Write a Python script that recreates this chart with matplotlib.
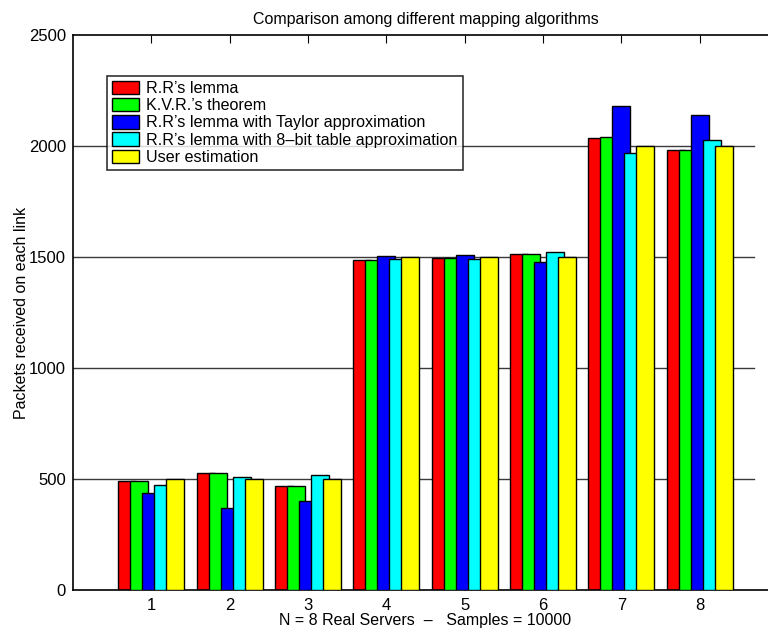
import numpy as np
import matplotlib
matplotlib.use("Agg")
import matplotlib.pyplot as plt
from matplotlib.patches import Patch

plt.rcParams['font.family'] = ['Liberation Sans', 'DejaVu Sans']

servers = [1, 2, 3, 4, 5, 6, 7, 8]
series_names = [
    "R.R\u2019s lemma",
    "K.V.R.\u2019s theorem",
    "R.R\u2019s lemma with Taylor approximation",
    "R.R\u2019s lemma with 8\u2013bit table approximation",
    "User estimation",
]
rr_lemma = [491, 527, 468, 1487, 1497, 1514, 2037, 1983]
kvr_theorem = [489, 527, 468, 1486, 1495, 1512, 2040, 1983]
rr_taylor = [435, 368, 402, 1504, 1507, 1477, 2178, 2138]
rr_table8 = [474, 509, 518, 1491, 1491, 1522, 1970, 2028]
user_estimation = [500, 500, 500, 1500, 1500, 1500, 2000, 2000]
yticks = [0, 500, 1000, 1500, 2000, 2500]

colors = ["#ff0000", "#00ff00", "#0000ff", "#00ffff", "#ffff00"]
values = [rr_lemma, kvr_theorem, rr_taylor, rr_table8, user_estimation]

fig = plt.figure(figsize=(7.68, 6.34), dpi=100)
ax = fig.add_axes([73 / 768, 1 - 590 / 634, 705 / 768, 555 / 634])

x = np.array(servers, dtype=float)
step = 0.153
width = 0.23

# horizontal reference lines behind the bars
for yv in yticks[1:-1]:
    ax.plot([0, 8.7], [yv, yv], color="#3a3a3a", lw=1.0, zorder=0.5)

for i, (vals, c) in enumerate(zip(values, colors)):
    ax.bar(x + (i - 2) * step, vals, width=width, color=c,
           edgecolor="black", linewidth=1.0, zorder=2 + i)

ax.set_xlim(0, 9)
ax.set_ylim(0, 2500)
ax.set_xticks(servers)
ax.set_yticks(yticks)
ax.tick_params(axis="x", direction="in", length=6, top=True, labelsize=12,
               pad=6)
ax.tick_params(axis="y", direction="in", length=0, labelsize=12, pad=5)
for s in ax.spines.values():
    s.set_linewidth(1.2)

ax.set_title("Comparison among different mapping algorithms", fontsize=11.5,
             pad=8)
ax.set_xlabel("N = 8 Real Servers  \u2013   Samples = 10000", fontsize=11.5,
              labelpad=0)
ax.set_ylabel("Packets received on each link", fontsize=11.5, labelpad=0)

handles = [Patch(facecolor=c, edgecolor="black", linewidth=1.0)
           for c in colors]
leg = ax.legend(handles, series_names, loc="upper left",
                bbox_to_anchor=((107 - 73) / 705, (590 - 76) / 555),
                fontsize=11.6, frameon=True, fancybox=False, borderpad=0.3,
                labelspacing=0.12, handlelength=1.7, handleheight=0.9,
                handletextpad=0.45, borderaxespad=0)
leg.get_frame().set_edgecolor("black")
leg.get_frame().set_linewidth(1.2)
leg.set_zorder(20)

fig.savefig("out.png", dpi=100)
